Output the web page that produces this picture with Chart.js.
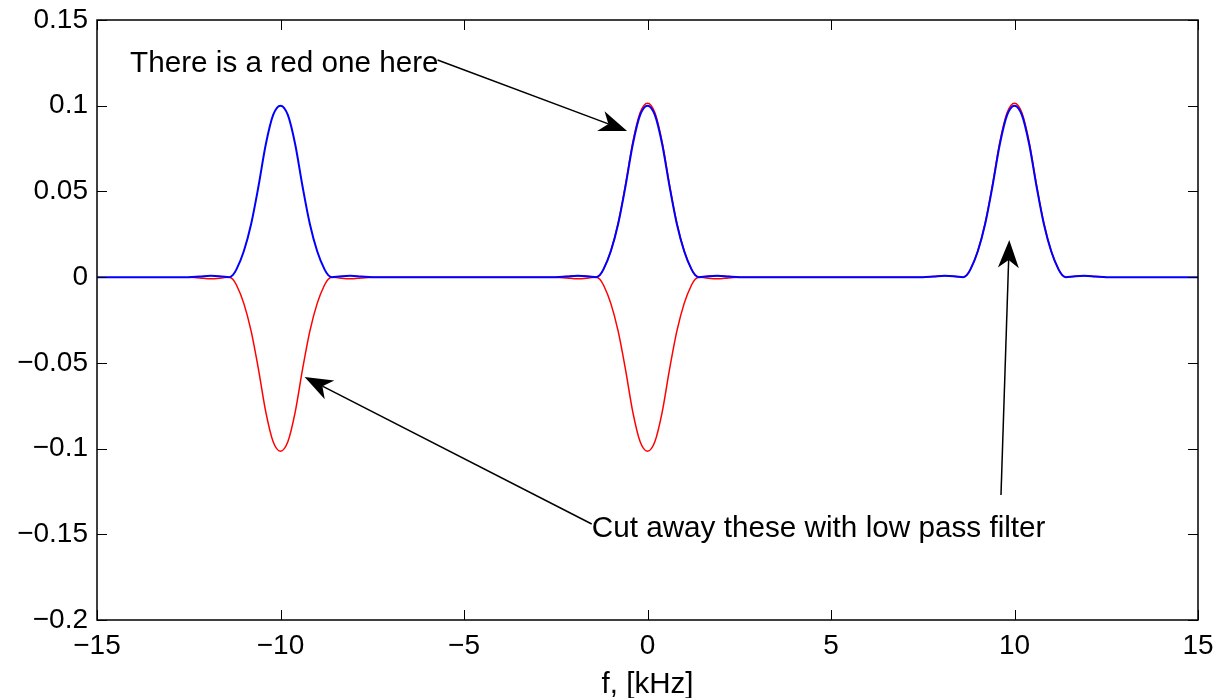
<!DOCTYPE html>
<html>
<head>
<meta charset="utf-8">
<script src="https://cdn.jsdelivr.net/npm/chart.js@4.4.1/dist/chart.umd.min.js"></script>
<style>
  html, body { margin: 0; padding: 0; background: #fff; }
  #wrap { width: 1216px; height: 698px; }
</style>
</head>
<body>
<div id="wrap"><canvas id="spectrum" width="1216" height="698"></canvas></div>
<script>
// frequency grid, kHz (denser around the three bumps)
const freq = [
  -15,
  -12.5, -12.2, -11.9, -11.6, -11.4, -11.3, -11.2, -11.0, -10.8, -10.6, -10.4, -10.2, -10,
  -9.8, -9.6, -9.4, -9.2, -9.0, -8.8, -8.7, -8.6, -8.4, -8.1, -7.8, -7.5,
  -2.5, -2.2, -1.9, -1.6, -1.4, -1.3, -1.2, -1.0, -0.8, -0.6, -0.4, -0.2, 0,
  0.2, 0.4, 0.6, 0.8, 1.0, 1.2, 1.3, 1.4, 1.6, 1.9, 2.2, 2.5,
  7.5, 7.8, 8.1, 8.4, 8.6, 8.7, 8.8, 9.0, 9.2, 9.4, 9.6, 9.8, 10,
  10.2, 10.4, 10.6, 10.8, 11.0, 11.2, 11.3, 11.4, 11.6, 11.9, 12.2, 12.5,
  15
];

// blue trace (filtered spectrum)
const blueMag = [
  0,
  0, 0.0004, 0.0008, 0.0004, 0, 0.0012, 0.0045, 0.0151, 0.031, 0.053, 0.0775, 0.0946, 0.1,
  0.0946, 0.0775, 0.053, 0.031, 0.0151, 0.0045, 0.0012, 0, 0.0004, 0.0008, 0.0004, 0,
  0, 0.0004, 0.0008, 0.0004, 0, 0.0012, 0.0045, 0.0151, 0.031, 0.053, 0.0775, 0.0946, 0.1,
  0.0946, 0.0775, 0.053, 0.031, 0.0151, 0.0045, 0.0012, 0, 0.0004, 0.0008, 0.0004, 0,
  0, 0.0004, 0.0008, 0.0004, 0, 0.0012, 0.0045, 0.0151, 0.031, 0.053, 0.0775, 0.0946, 0.1,
  0.0946, 0.0775, 0.053, 0.031, 0.0151, 0.0045, 0.0012, 0, 0.0004, 0.0008, 0.0004, 0,
  0
];

// red traces, upper part (0 and +10) and lower part (-10 and 0);
// null where the red trace only sits on the zero line under the blue one
const redUpper = [
  null,
  null, null, null, null, null, null, null, null, null, null, null, null, null,
  null, null, null, null, null, null, null, null, null, null, null, null,
  0, 0.0004, 0.0008, 0.0004, 0, 0.0012, 0.0046, 0.0153, 0.0315, 0.0538, 0.0787, 0.096, 0.1015,
  0.096, 0.0787, 0.0538, 0.0315, 0.0153, 0.0046, 0.0012, 0, 0.0004, 0.0008, 0.0004, 0,
  0, 0.0004, 0.0008, 0.0004, 0, 0.0012, 0.0046, 0.0153, 0.0315, 0.0538, 0.0787, 0.096, 0.1015,
  0.096, 0.0787, 0.0538, 0.0315, 0.0153, 0.0046, 0.0012, 0, 0.0004, 0.0008, 0.0004, 0,
  null
];
const redLower = [
  null,
  0, -0.0005, -0.001, -0.0005, 0, -0.0012, -0.0046, -0.0153, -0.0315, -0.0538, -0.0787, -0.096, -0.1015,
  -0.096, -0.0787, -0.0538, -0.0315, -0.0153, -0.0046, -0.0012, 0, -0.0005, -0.001, -0.0005, 0,
  0, -0.0005, -0.001, -0.0005, 0, -0.0012, -0.0046, -0.0153, -0.0315, -0.0538, -0.0787, -0.096, -0.1015,
  -0.096, -0.0787, -0.0538, -0.0315, -0.0153, -0.0046, -0.0012, 0, -0.0005, -0.001, -0.0005, 0,
  null, null, null, null, null, null, null, null, null, null, null, null, null,
  null, null, null, null, null, null, null, null, null, null, null, null,
  null
];

// text notes and arrows, in data units
const notes = [
  { text: 'There is a red one here', at: [-14.1, 0.1198] },
  { text: 'Cut away these with low pass filter', at: [-1.52, -0.1514] }
];
const arrows = [
  { from: [-5.72, 0.1267], to: [-0.556, 0.0853] },
  { from: [-1.52, -0.144], to: [-9.343, -0.0583] },
  { from: [9.632, -0.1271], to: [9.858, 0.0217] }
];

const FONT = "'Liberation Sans', Arial, Helvetica, sans-serif";
Chart.defaults.font.family = FONT;
Chart.defaults.color = '#000';

const toPoints = vals => freq.map((f, i) => ({ x: f, y: vals[i] }));
const fmt = v => (Math.round(v * 100) / 100).toString().replace('-', '\u2212');
const noPad = s => { s.paddingTop = 0; s.paddingBottom = 0; s.paddingLeft = 0; s.paddingRight = 0; };

// matlab style box, inward ticks, notes and arrows
const matlabFrame = {
  id: 'matlabFrame',
  afterDatasetsDraw(chart) {
    const { ctx, chartArea: a, scales: { x, y } } = chart;
    ctx.save();
    ctx.strokeStyle = '#000';
    ctx.lineWidth = 1;
    ctx.beginPath();
    x.ticks.forEach(t => {
      const px = Math.round(x.getPixelForValue(t.value)) + 0.5;
      ctx.moveTo(px, a.bottom); ctx.lineTo(px, a.bottom - 10);
      ctx.moveTo(px, a.top); ctx.lineTo(px, a.top + 10);
    });
    y.ticks.forEach(t => {
      const py = Math.round(y.getPixelForValue(t.value)) + 0.5;
      ctx.moveTo(a.left, py); ctx.lineTo(a.left + 10, py);
      ctx.moveTo(a.right, py); ctx.lineTo(a.right - 10, py);
    });
    ctx.stroke();
    ctx.lineWidth = 1.5;
    ctx.strokeRect(a.left, a.top, a.right - a.left, a.bottom - a.top);

    // arrows
    arrows.forEach(ar => {
      const x0 = x.getPixelForValue(ar.from[0]), y0 = y.getPixelForValue(ar.from[1]);
      const x1 = x.getPixelForValue(ar.to[0]), y1 = y.getPixelForValue(ar.to[1]);
      const ang = Math.atan2(y1 - y0, x1 - x0);
      const ux = Math.cos(ang), uy = Math.sin(ang);
      const len = 28, half = 10.5, notch = 20;
      const bx = x1 - ux * len, by = y1 - uy * len;
      const nx = x1 - ux * notch, ny = y1 - uy * notch;
      ctx.lineWidth = 1.5;
      ctx.beginPath();
      ctx.moveTo(x0, y0);
      ctx.lineTo(nx, ny);
      ctx.stroke();
      ctx.fillStyle = '#000';
      ctx.beginPath();
      ctx.moveTo(x1, y1);
      ctx.lineTo(bx - uy * half, by + ux * half);
      ctx.lineTo(nx, ny);
      ctx.lineTo(bx + uy * half, by - ux * half);
      ctx.closePath();
      ctx.fill();
    });

    ctx.font = '29.7px ' + FONT;
    ctx.fillStyle = '#000';
    ctx.textBaseline = 'alphabetic';
    ctx.textAlign = 'left';
    notes.forEach(n => {
      ctx.fillText(n.text, x.getPixelForValue(n.at[0]), y.getPixelForValue(n.at[1]));
    });
    ctx.restore();
  }
};

const ctx = document.getElementById('spectrum').getContext('2d');
const spectrumChart = new Chart(ctx, {
  type: 'line',
  data: {
    datasets: [
      { data: toPoints(blueMag), borderColor: '#0000ff', borderWidth: 2, order: 0 },
      { data: toPoints(redUpper), borderColor: '#ff0000', borderWidth: 1.5, order: 1 },
      { data: toPoints(redLower), borderColor: '#ff0000', borderWidth: 1.5, order: 2 }
    ]
  },
  options: {
    responsive: false,
    animation: false,
    devicePixelRatio: 1,
    layout: { padding: { top: 20, right: 18, left: 0, bottom: 0 } },
    elements: {
      point: { radius: 0 },
      line: { cubicInterpolationMode: 'monotone', fill: false }
    },
    plugins: { legend: { display: false }, tooltip: { enabled: false } },
    scales: {
      x: {
        type: 'linear',
        min: -15, max: 15,
        grid: { display: false, drawTicks: false },
        border: { display: false },
        ticks: { stepSize: 5, padding: 9, font: { size: 28 }, callback: fmt, maxRotation: 0 },
        title: { display: true, text: 'f, [kHz]', font: { size: 29.5, lineHeight: 1 }, padding: { top: 0, bottom: -2 } },
        afterFit: s => { s.height = 78; noPad(s); }
      },
      y: {
        min: -0.2, max: 0.15,
        grid: { display: false, drawTicks: false },
        border: { display: false },
        ticks: { stepSize: 0.05, padding: 9, font: { size: 28 }, callback: fmt },
        afterFit: s => { s.width = 97; noPad(s); }
      }
    }
  },
  plugins: [matlabFrame]
});
</script>
</body>
</html>
